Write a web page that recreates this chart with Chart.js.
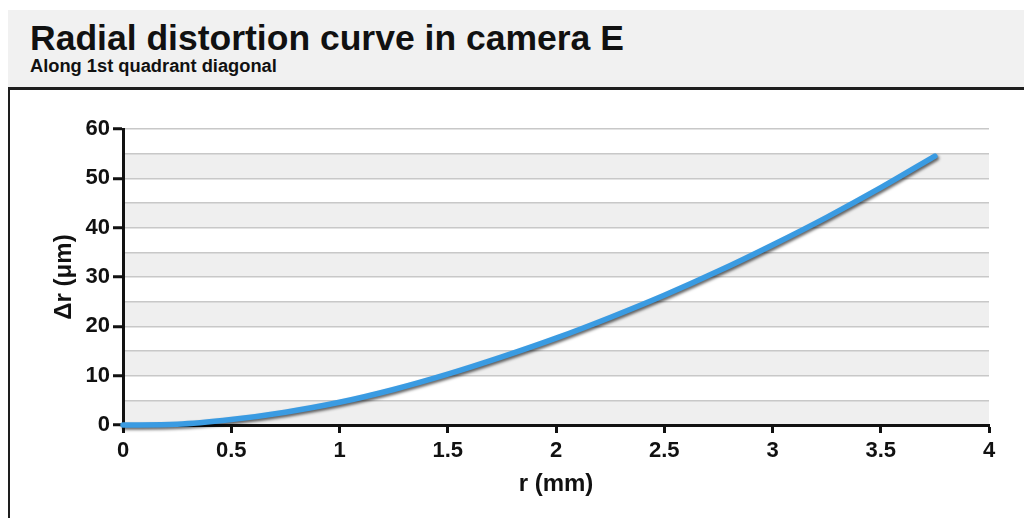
<!DOCTYPE html>
<html>
<head>
<meta charset="utf-8">
<script src="https://cdn.jsdelivr.net/npm/chart.js@4"></script>
<style>
  html, body { margin: 0; padding: 0; width: 1024px; height: 518px; overflow: hidden; background: #fff; font-family: "Liberation Sans", Arial, sans-serif; }
  #header { position: absolute; left: 8px; top: 10px; width: 1016px; height: 77px; background: #f1f1f1; }
  #rule { position: absolute; left: 8px; top: 87px; width: 1016px; height: 3px; background: #1e1e1e; }
  #leftrule { position: absolute; left: 8px; top: 87px; width: 2px; height: 431px; background: #1e1e1e; }
  #title { position: absolute; left: 30px; top: 21px; font-size: 35.5px; line-height: 1; font-weight: bold; color: #111; white-space: nowrap; }
  #subtitle { position: absolute; left: 30px; top: 57px; font-size: 18.3px; line-height: 1; font-weight: bold; color: #111; white-space: nowrap; }
  #c { position: absolute; left: 0; top: 0; }
</style>
</head>
<body>
<div id="header"></div>
<div id="rule"></div>
<div id="leftrule"></div>
<div id="title">Radial distortion curve in camera E</div>
<div id="subtitle">Along 1st quadrant diagonal</div>
<canvas id="c" width="1024" height="518"></canvas>
<script>
// ---- data ----
const rValues      = [0, 0.25, 0.5, 0.75, 1.0, 1.25, 1.5, 1.75, 2.0, 2.25, 2.5, 2.75, 3.0, 3.25, 3.5, 3.75];
const deltaRValues = [0, 0.15, 1.1, 2.6, 4.6, 7.2, 10.3, 13.8, 17.6, 21.8, 26.3, 31.2, 36.5, 42.1, 48.1, 54.5];
const xAxisTitle = 'r (mm)';
const yAxisTitle = 'Δr (μm)';
const xMin = 0, xMax = 4, xStep = 0.5;
const yMin = 0, yMax = 60, yStep = 5, yLabelStep = 10;

const points = rValues.map((r, i) => ({ x: r, y: deltaRValues[i] }));

const bandsPlugin = {
  id: 'bands',
  beforeDraw(chart) {
    const { ctx, chartArea, scales } = chart;
    const y = scales.y;
    ctx.save();
    ctx.fillStyle = '#efefef';
    for (let v = yMin; v < yMax; v += 2 * yStep) {
      const top = y.getPixelForValue(v + yStep);
      const bot = y.getPixelForValue(v);
      ctx.fillRect(chartArea.left, top, chartArea.right - chartArea.left, bot - top);
    }
    ctx.restore();
  }
};

const shadowPlugin = {
  id: 'lineShadow',
  beforeDatasetDraw(chart) {
    const ctx = chart.ctx;
    ctx.save();
    ctx.shadowColor = 'rgba(0,0,0,0.6)';
    ctx.shadowBlur = 3;
    ctx.shadowOffsetX = 1.5;
    ctx.shadowOffsetY = 2;
  },
  afterDatasetDraw(chart) {
    chart.ctx.restore();
  }
};

const tickFont = { family: '"Liberation Sans", Arial, sans-serif', size: 22, weight: 'bold' };
const titleFont = { family: '"Liberation Sans", Arial, sans-serif', size: 24, weight: 'bold' };

new Chart(document.getElementById('c'), {
  type: 'line',
  data: {
    datasets: [{
      data: points,
      borderColor: '#3a9be2',
      borderWidth: 5.5,
      pointRadius: 0,
      tension: 0.4,
      cubicInterpolationMode: 'monotone',
      fill: false,
      clip: false,
      borderCapStyle: 'round'
    }]
  },
  options: {
    responsive: false,
    animation: false,
    layout: { padding: { top: 129, right: 35, left: 0, bottom: 0 } },
    plugins: { legend: { display: false }, tooltip: { enabled: false } },
    scales: {
      x: {
        type: 'linear',
        min: xMin, max: xMax,
        ticks: { stepSize: xStep, color: '#111', font: tickFont, padding: 5, maxRotation: 0, autoSkip: false,
                 callback: v => String(v) },
        grid: { drawOnChartArea: false, drawTicks: true, tickLength: 8, tickColor: '#111', tickWidth: 3 },
        border: { color: '#111', width: 3 },
        title: { display: true, text: xAxisTitle, color: '#111', font: titleFont, padding: { top: 0, bottom: 19 } },
        afterFit: s => { s.height = 93; }
      },
      y: {
        min: yMin, max: yMax,
        ticks: { stepSize: yStep, color: '#111', font: tickFont, padding: 3, autoSkip: false,
                 callback: v => (v % yLabelStep === 0 ? String(v) : '') },
        grid: {
          color: '#c8c8c8', lineWidth: 1.5, drawTicks: true, tickLength: 10,
          tickColor: ctx => (ctx.tick && ctx.tick.value % yLabelStep === 0 ? '#111' : 'rgba(0,0,0,0)'),
          tickWidth: 3
        },
        border: { color: '#111', width: 3 },
        title: { display: true, text: yAxisTitle, color: '#111', font: titleFont, padding: { top: 50, bottom: 0 } },
        afterFit: s => { s.width = 123; }
      }
    }
  },
  plugins: [bandsPlugin, shadowPlugin]
});
</script>
</body>
</html>
